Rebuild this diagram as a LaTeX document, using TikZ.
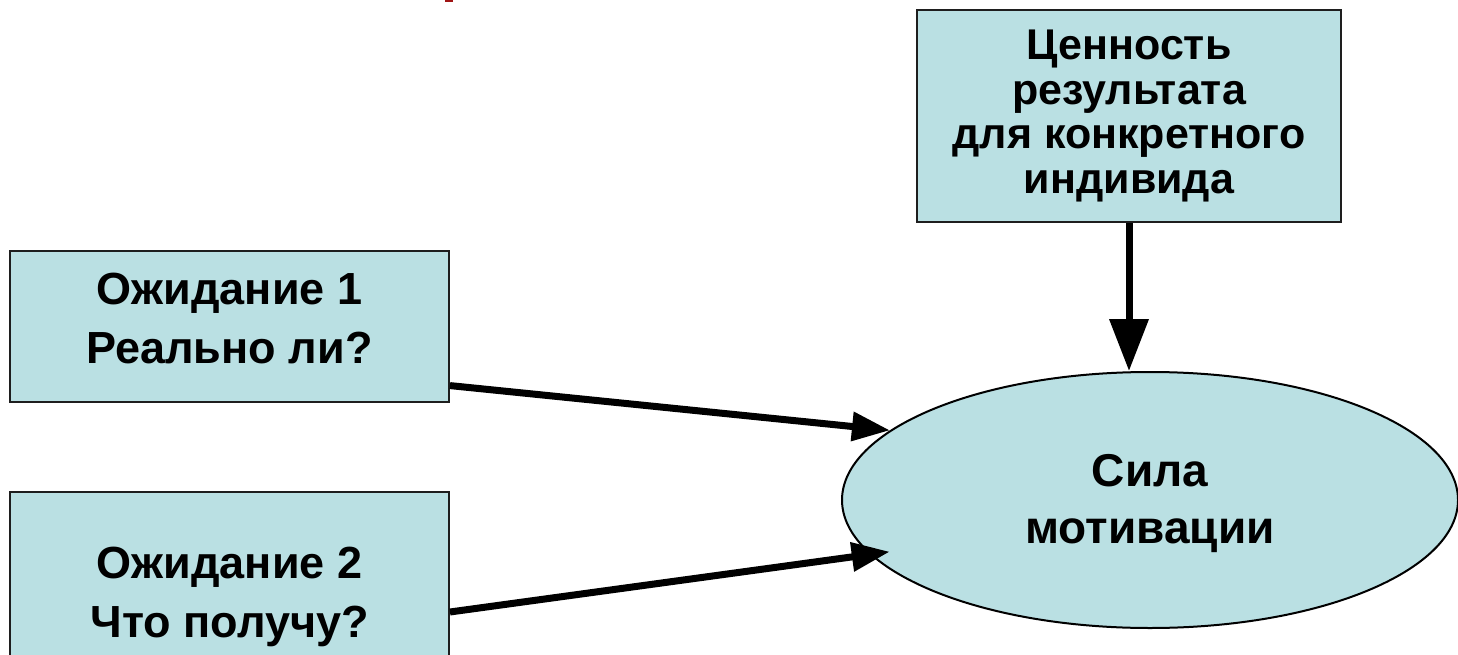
\documentclass[tikz,border=0pt]{standalone}
\usepackage{fontspec}
\setmainfont{Liberation Sans}
\usetikzlibrary{shapes.geometric,arrows.meta}
\definecolor{boxfill}{RGB}{186,224,227}
\definecolor{boxline}{RGB}{30,30,30}
\definecolor{titlered}{RGB}{160,20,20}
\tikzset{
  box/.style={draw=boxline, line width=2pt, fill=boxfill, rectangle, inner sep=0pt, align=center, font=\bfseries\fontsize{45}{59}\selectfont},
  oval/.style={draw=black, line width=2pt, fill=boxfill, ellipse, inner sep=0pt},
  label/.style={inner sep=0pt, align=center},
  link/.style={line width=7pt, -{Triangle[length=38pt,width=28pt]}},
  biglink/.style={line width=7pt, -{Triangle[length=52pt,width=38pt]}}
}
\begin{document}
\begin{tikzpicture}[x=1pt,y=-1pt]
\useasboundingbox (0,0) rectangle (1458,655);
\fill[titlered] (445,0) rectangle (453,2);
\node[box, minimum width=424pt, minimum height=212pt, font=\bfseries\fontsize{43}{44.5}\selectfont] (t) at (1129,116) {Ценность\\результата\\для конкретного\\индивида};
\node[box, minimum width=439pt, minimum height=151pt, text depth=16pt] (e1) at (229.5,326.5) {Ожидание 1\\Реально ли?};
\node[box, minimum width=439pt, minimum height=178pt] (e2) at (229.5,581) {};
\node[label, font=\bfseries\fontsize{45}{59}\selectfont] (e2t) at (229.5,597) {Ожидание 2\\Что получу?};
\node[oval, minimum width=616pt, minimum height=256pt] (m) at (1150,500) {};
\node[label, font=\bfseries\fontsize{46}{57}\selectfont] (mt) at (1150,504) {Сила\\мотивации};
\draw[biglink] (t.south) -- (t.south |- m.north);
\draw[link] (e1.-15.4) -- (m.165.3);
\draw[link, shorten >=-20pt] (e2.-8.3) -- (m.191.4);
\end{tikzpicture}
\end{document}
